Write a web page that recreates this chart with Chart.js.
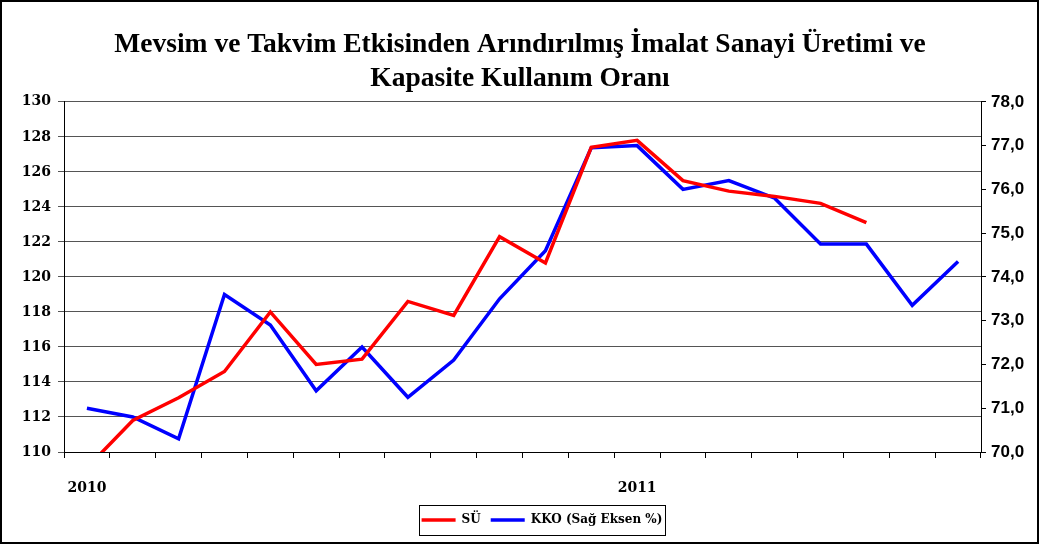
<!DOCTYPE html>
<html>
<head>
<meta charset="utf-8">
<script src="https://cdn.jsdelivr.net/npm/chart.js@4/dist/chart.umd.min.js"></script>
<style>
  html, body { margin: 0; padding: 0; background: #fff; }
</style>
</head>
<body>
<canvas id="chart" width="1040" height="548"></canvas>
<script>
// months Jan 2010 .. Aug 2011
const months = ['2010-01', '2010-02', '2010-03', '2010-04', '2010-05', '2010-06', '2010-07', '2010-08', '2010-09', '2010-10', '2010-11', '2010-12',
                '2011-01', '2011-02', '2011-03', '2011-04', '2011-05', '2011-06', '2011-07', '2011-08'];

// SÜ - production index (left axis)
const su = [109.1, 111.8, 113.1, 114.6, 118.0, 115.0, 115.3, 118.6, 117.8, 122.3, 120.8, 127.4,
            127.8, 125.5, 124.9, 124.6, 124.2, 123.1];

// KKO - capacity usage, % (right axis)
const kko = [71.0, 70.8, 70.3, 73.6, 72.9, 71.4, 72.4, 71.25, 72.1, 73.5, 74.6, 76.95,
             77.0, 76.0, 76.2, 75.8, 74.75, 74.75, 73.35, 74.35];

const titleLines = ['Mevsim ve Takvim Etkisinden Arındırılmış İmalat Sanayi Üretimi ve', 'Kapasite Kullanım Oranı'];

const legendShift = 22;

const framePlugin = {
   id: 'frame',
   afterLayout(chart) {
      chart.legend.left += legendShift;
      chart.legend.right += legendShift;
   },
   afterDraw(chart) {
      const ctx = chart.ctx;
      ctx.save();
      ctx.strokeStyle = '#000';
      // outer frame
      ctx.lineWidth = 2;
      ctx.strokeRect(1, 1, 1037, 542);
      // box round the legend
      const hb = chart.legend.legendHitBoxes;
      if (hb && hb.length) {
         const first = hb[0];
         const last = hb[hb.length - 1];
         const l = Math.round(first.left - 3) + 0.5;
         const r = Math.round(last.left + last.width + 3) + 0.5;
         const t = Math.round(first.top - 9) + 0.5;
         const b = Math.round(first.top + first.height + 9) + 0.5;
         ctx.lineWidth = 1;
         ctx.strokeRect(l, t, r - l, b - t);
      }
      ctx.restore();
   }
};

let chartCanvas = document.getElementById('chart');

let chartData = {
   labels: months,
   datasets: [{
      label: 'SÜ',
      data: su,
      borderColor: '#ff0000',
      backgroundColor: '#ff0000',
      borderWidth: 3.5,
      pointRadius: 0,
      tension: 0,
      yAxisID: 'y'
   }, {
      label: 'KKO (Sağ Eksen %)',
      data: kko,
      borderColor: '#0000ff',
      backgroundColor: '#0000ff',
      borderWidth: 3.5,
      pointRadius: 0,
      tension: 0,
      yAxisID: 'y1'
   }]
};

let chartOptions = {
   responsive: false,
   animation: false,
   layout: {
      padding: { left: 0, right: 0, top: 0, bottom: 12 }
   },
   scales: {
      x: {
         offset: true,
         grid: {
            offset: true,
            drawOnChartArea: false,
            tickLength: 6,
            color: '#000'
         },
         border: { color: '#000' },
         ticks: {
            autoSkip: false,
            maxRotation: 0,
            padding: 22,
            color: '#000',
            font: { family: 'DejaVu Serif', size: 14, weight: 'bold' },
            callback: (v, i) => months[i].endsWith('-01') ? months[i].slice(0, 4) : ''
         },
         afterFit: (scale) => { scale.height = 52; }
      },
      y: {
         position: 'left',
         min: 110,
         max: 130,
         grid: { color: '#555', tickLength: 6 },
         border: { color: '#000' },
         ticks: {
            stepSize: 2,
            padding: 7,
            color: '#000',
            font: { family: 'DejaVu Serif', size: 14, weight: 'bold' }
         },
         afterFit: (scale) => { scale.width = 64; }
      },
      y1: {
         position: 'right',
         min: 70,
         max: 78,
         grid: { drawOnChartArea: false, tickLength: 5, color: '#000' },
         border: { color: '#000' },
         ticks: {
            stepSize: 1,
            padding: 5,
            color: '#000',
            font: { family: 'Liberation Sans', size: 17, weight: 'bold' },
            callback: (v) => v.toFixed(1).replace('.', ',')
         },
         afterFit: (scale) => { scale.width = 59; }
      }
   },
   plugins: {
      title: {
         display: true,
         text: titleLines,
         color: '#000',
         font: { family: 'Liberation Serif', size: 27.5, weight: 'bold', lineHeight: 1.27 },
         padding: { top: 27, bottom: 5 }
      },
      legend: {
         position: 'bottom',
         labels: {
            usePointStyle: true,
            pointStyle: 'line',
            pointStyleWidth: 34,
            padding: 10,
            color: '#000',
            font: { family: 'DejaVu Serif', size: 12, weight: 'bold' }
         }
      },
      tooltip: { enabled: false }
   }
};

let mainChart = new Chart(chartCanvas, {
   type: 'line',
   data: chartData,
   options: chartOptions,
   plugins: [framePlugin]
});
</script>
</body>
</html>
